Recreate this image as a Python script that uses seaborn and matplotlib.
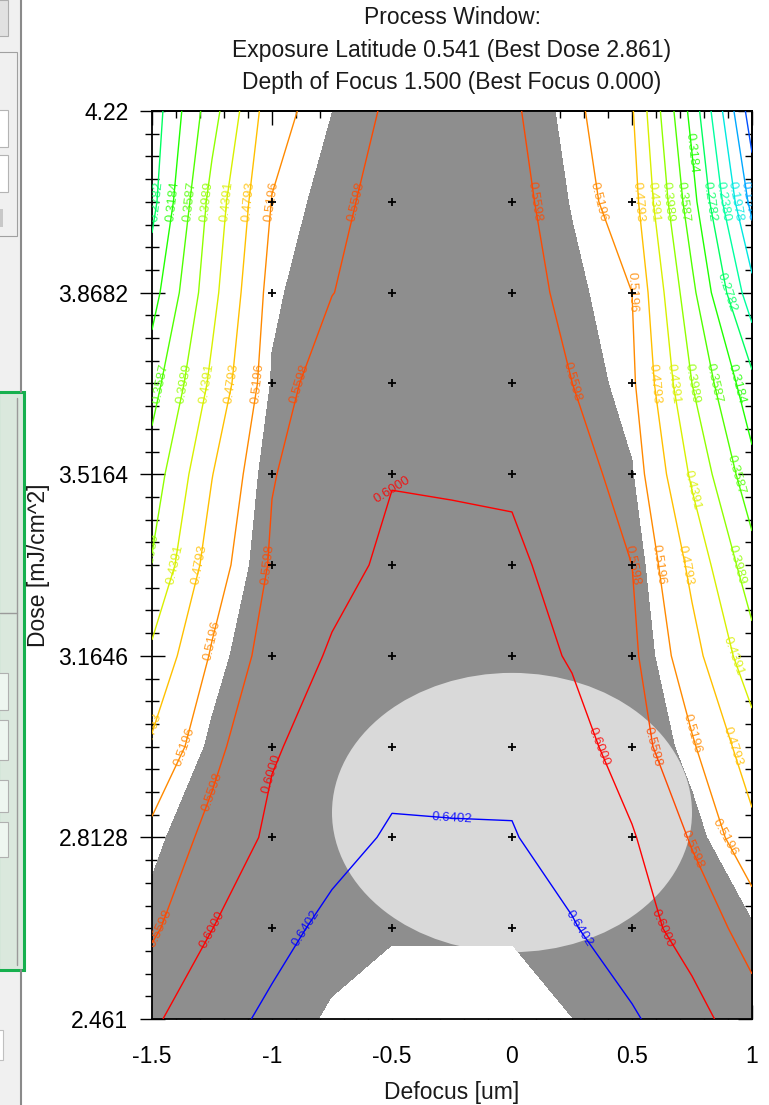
import numpy as np
import matplotlib
matplotlib.use("Agg")
import matplotlib.pyplot as plt
from matplotlib.patches import Ellipse, Rectangle
from matplotlib.lines import Line2D
from matplotlib.ticker import FixedLocator
import seaborn as sns

# CD grid (um) over defocus x dose
defocus = [-1.5, -1.25, -1.0, -0.75, -0.5, -0.25, 0.0, 0.25, 0.5, 0.75, 1.0]
dose = [2.461, 2.6369, 2.8128, 2.9887, 3.1646, 3.3405, 3.5164, 3.6923, 3.8682, 4.0441, 4.22]
cd = [
    [0.5945, 0.6246, 0.6484, 0.663, 0.672, 0.672, 0.672, 0.660, 0.6448, 0.615, 0.575],
    [0.553, 0.5995, 0.6273, 0.650, 0.657, 0.657, 0.657, 0.643, 0.6176, 0.5833, 0.5444],
    [0.530, 0.5719, 0.608, 0.627, 0.6446, 0.6424, 0.6425, 0.623, 0.6036, 0.5562, 0.490],
    [0.485, 0.548, 0.5965, 0.615, 0.628, 0.632, 0.630, 0.617, 0.579, 0.524, 0.4575],
    [0.447, 0.5237, 0.578, 0.604, 0.618, 0.623, 0.620, 0.596, 0.568, 0.4941, 0.414],
    [0.402, 0.4988, 0.5646, 0.5887, 0.607, 0.610, 0.608, 0.584, 0.5598, 0.469, 0.3747],
    [0.377, 0.478, 0.558, 0.580, 0.5985, 0.596, 0.5943, 0.578, 0.5424, 0.4327, 0.332],
    [0.3426, 0.4478, 0.5426, 0.580, 0.585, 0.590, 0.587, 0.560, 0.527, 0.3989, 0.290],
    [0.3016, 0.427, 0.535, 0.559, 0.578, 0.585, 0.580, 0.548, 0.5196, 0.369, 0.212],
    [0.266, 0.413, 0.521, 0.553, 0.570, 0.578, 0.573, 0.5379, 0.497, 0.334, 0.1447],
    [0.255, 0.3828, 0.505, 0.5396, 0.566, 0.575, 0.5655, 0.530, 0.4834, 0.305, 0.094],
]

levels = [0.1173, 0.1575, 0.1978, 0.2380, 0.2782, 0.3184, 0.3587, 0.3989,
          0.4391, 0.4793, 0.5196, 0.5598, 0.6000, 0.6402]
level_colors = ["#0050ff", "#00a8ff", "#00e8e0", "#00ffa0", "#00ff60", "#20ff00", "#50ff00",
                "#90ff00", "#d8f000", "#ffc000", "#ff8a00", "#ff4a00", "#ff0000", "#0000ff"]

# process window
best_focus = 0.0
best_dose = 2.861
depth_of_focus = 1.5
exposure_latitude = 0.541
cd_low, cd_high = 0.54, 0.66

meas_focus = [-1.0, -0.5, 0.0, 0.5]
meas_dose = dose[1:10]

xtick_vals = [-1.5, -1.0, -0.5, 0.0, 0.5, 1.0]
xtick_labels = ["-1.5", "-1", "-0.5", "0", "0.5", "1"]
ytick_vals = [2.461, 2.8128, 3.1646, 3.5164, 3.8682, 4.22]
ytick_labels = ["2.461", "2.8128", "3.1646", "3.5164", "3.8682", "4.22"]

sns.set_theme(style="white")
plt.rcParams["font.family"] = ["Liberation Sans", "DejaVu Sans"]

W, H = 769, 1105
fig = plt.figure(figsize=(W / 100, H / 100), dpi=100)
fig.patch.set_facecolor("white")


def px_rect(x, y, w, h, **kw):
    fig.add_artist(Rectangle((x / W, 1 - (y + h) / H), w / W, h / H,
                             transform=fig.transFigure, **kw))


def px_line(x0, y0, x1, y1, **kw):
    fig.add_artist(Line2D([x0 / W, x1 / W], [1 - y0 / H, 1 - y1 / H],
                          transform=fig.transFigure, **kw))


# left side of the application window
px_rect(0, 0, 21, H, facecolor="#f0f0f0", edgecolor="none")
px_rect(-2, 0, 10, 36, facecolor="#e1e1e1", edgecolor="#adadad", lw=0.8)
px_rect(-2, 52, 19, 184, facecolor="#f0f0f0", edgecolor="#a0a0a0", lw=0.8)
px_rect(-2, 110, 10, 37, facecolor="white", edgecolor="#b4b4b4", lw=0.8)
px_rect(-2, 155, 10, 37, facecolor="white", edgecolor="#b4b4b4", lw=0.8)
px_rect(0, 209, 3, 18, facecolor="#c8c8c8", edgecolor="none")
px_rect(-2, 392, 26, 578, facecolor="#dae8dd", edgecolor="#16b04e", lw=2.2)
px_line(0, 613, 17, 613, color="#9a9a9a", lw=1)
px_line(17, 398, 17, 965, color="#9a9a9a", lw=1)
for top, hgt in [(673, 37), (720, 40), (780, 32), (822, 35)]:
    px_rect(-2, top, 10, hgt, facecolor="#eef6f0", edgecolor="#b0b0b0", lw=0.8)
px_rect(-2, 1030, 5, 30, facecolor="white", edgecolor="#c0c0c0", lw=0.8)
px_line(21, 0, 21, 392, color="#8a8a8a", lw=1.5)
px_line(21, 970, 21, H, color="#8a8a8a", lw=1.5)

ax = fig.add_axes([152 / W, 1 - 1019 / H, 600 / W, 908 / H])
ax.set_facecolor("white")
Z = np.array(cd)

ax.contourf(defocus, dose, Z, levels=[cd_low, cd_high], colors=["#8e8e8e"], zorder=1)
ax.add_patch(Ellipse((best_focus, best_dose), depth_of_focus, exposure_latitude,
                     facecolor="#d9d9d9", edgecolor="none", zorder=2))
ax.contourf(defocus, dose, Z, levels=[cd_high, 1.0], colors=["white"], zorder=2.5)
ax.contour(defocus, dose, Z, levels=levels, colors=level_colors, linewidths=1.0, zorder=3)

# labels: one set per dose band so every line gets several of them
band_edges = [0, 2, 4, 6, 8, 10]
for lo, hi in zip(band_edges[:-1], band_edges[1:]):
    cs_b = ax.contour(defocus, dose[lo:hi + 1], Z[lo:hi + 1], levels=levels,
                      colors=level_colors, linewidths=0, zorder=3)
    for t in ax.clabel(cs_b, fmt="%.4f", fontsize=9.5, inline=False):
        t.set_alpha(0.85)
        t.set_zorder(4)

gx, gy = np.meshgrid(meas_focus, meas_dose)
sns.scatterplot(x=gx.ravel(), y=gy.ravel(), marker="+", color="black", s=28,
                linewidth=1.3, ax=ax, zorder=5, legend=False)

ax.set_xlim(-1.5, 1.0)
ax.set_ylim(2.461, 4.22)
ax.set_xlabel("")
ax.set_ylabel("")

x_minor = np.round(np.arange(-1.5, 1.001, 0.1), 3)
y_minor = np.linspace(2.461, 4.22, 41)
ax.set_xticks(xtick_vals, xtick_labels)
ax.set_yticks(ytick_vals, ytick_labels)
ax.xaxis.set_minor_locator(FixedLocator(x_minor))
ax.yaxis.set_minor_locator(FixedLocator(y_minor))
ax.tick_params(axis="y", which="major", direction="inout", length=18, width=1,
               pad=8, labelsize=16.5, left=True, right=False, colors="black")
ax.tick_params(axis="y", which="minor", direction="inout", length=10, width=1,
               left=True, right=False, color="black")
ax.tick_params(axis="x", which="major", direction="in", length=10, width=1,
               pad=19, labelsize=16.5, bottom=True, top=False, colors="black")
ax.tick_params(axis="x", which="minor", direction="in", length=5, width=1,
               bottom=True, top=False, color="black")

secx = ax.secondary_xaxis("top")
secx.set_xticks(xtick_vals)
secx.xaxis.set_minor_locator(FixedLocator(x_minor))
secx.tick_params(axis="x", which="major", direction="in", length=10, width=1,
                 labeltop=False, labelbottom=False, color="black")
secx.tick_params(axis="x", which="minor", direction="in", length=5, width=1, color="black")
secy = ax.secondary_yaxis("right")
secy.set_yticks(ytick_vals)
secy.yaxis.set_minor_locator(FixedLocator(y_minor))
secy.tick_params(axis="y", which="major", direction="in", length=10, width=1,
                 labelright=False, labelleft=False, color="black")
secy.tick_params(axis="y", which="minor", direction="in", length=5, width=1, color="black")
for a in (ax, secx, secy):
    for sp in a.spines.values():
        sp.set_color("black")
        sp.set_linewidth(1.3)

title_lines = [
    "Process Window:",
    f"Exposure Latitude {exposure_latitude:.3f} (Best Dose {best_dose:.3f})",
    f"Depth of Focus {depth_of_focus:.3f} (Best Focus {best_focus:.3f})",
]
for i, line in enumerate(title_lines):
    fig.text(452 / W, 1 - (18 + 32 * i) / H, line, ha="center", va="center",
             fontsize=16.5, color="#1a1a1a")
fig.text(452 / W, 1 - 1092 / H, "Defocus [um]", ha="center", va="center",
         fontsize=16.5, color="#1a1a1a")
fig.text(39 / W, 1 - 565 / H, "Dose [mJ/cm^2]", ha="center", va="center",
         rotation=90, fontsize=16.5, color="#1a1a1a")

fig.savefig("out.png", dpi=100)
